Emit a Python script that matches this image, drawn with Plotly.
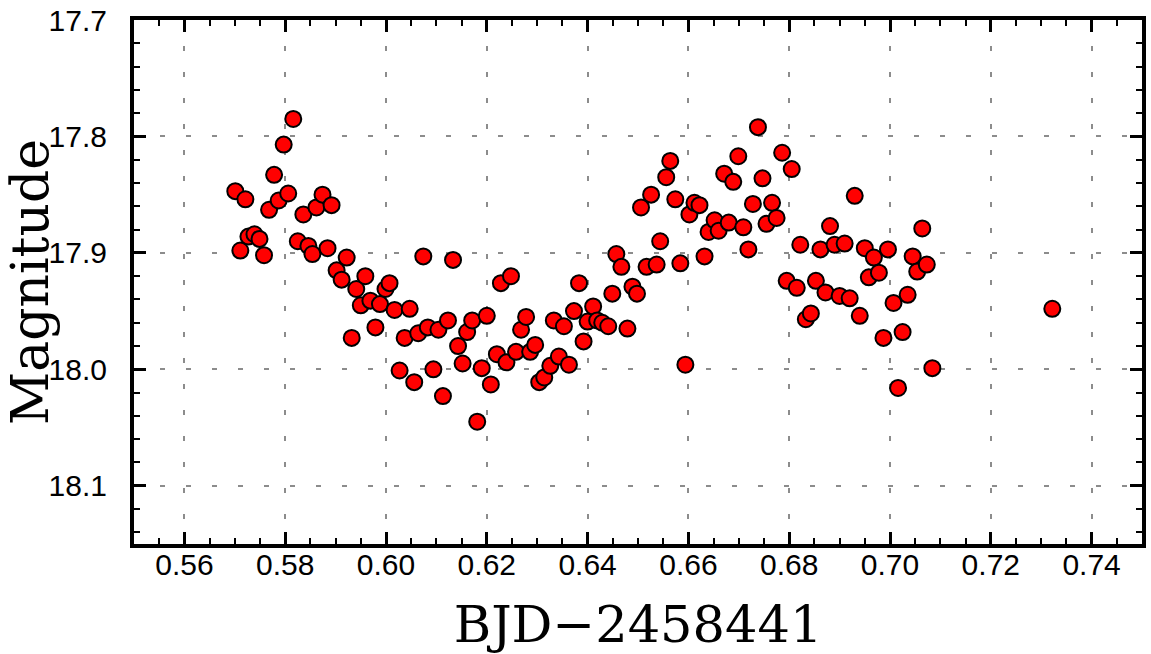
import plotly.graph_objects as go

# BJD - 2458441
bjd = [0.5701, 0.5711, 0.5721, 0.5727, 0.5739, 0.5749, 0.5758, 0.5768, 0.5778, 0.5787,
       0.5797, 0.5806, 0.5816, 0.5825, 0.5836, 0.5846, 0.5854, 0.5862, 0.5874, 0.5884,
       0.5892, 0.5902, 0.5912, 0.5922, 0.5932, 0.5941, 0.5950, 0.5959, 0.5969, 0.5979,
       0.5988, 0.5999, 0.6007, 0.6017, 0.6027, 0.6037, 0.6047, 0.6056, 0.6064, 0.6074,
       0.6083, 0.6094, 0.6104, 0.6113, 0.6123, 0.6133, 0.6143, 0.6152, 0.6161, 0.6171,
       0.6181, 0.6190, 0.6200, 0.6208, 0.6220, 0.6228, 0.6239, 0.6248, 0.6258, 0.6268,
       0.6278, 0.6286, 0.6296, 0.6304, 0.6314, 0.6326, 0.6333, 0.6343, 0.6353, 0.6363,
       0.6373, 0.6383, 0.6392, 0.6400, 0.6411, 0.6419, 0.6429, 0.6441, 0.6449, 0.6457,
       0.6467, 0.6479, 0.6489, 0.6498, 0.6506, 0.6517, 0.6526, 0.6537, 0.6544, 0.6556,
       0.6564, 0.6574, 0.6584, 0.6594, 0.6602, 0.6612, 0.6622, 0.6632, 0.6640, 0.6652,
       0.6660, 0.6671, 0.6680, 0.6689, 0.6699, 0.6709, 0.6719, 0.6728, 0.6738, 0.6747,
       0.6755, 0.6766, 0.6775, 0.6786, 0.6795, 0.6805, 0.6815, 0.6822, 0.6833, 0.6843,
       0.6853, 0.6862, 0.6872, 0.6881, 0.6890, 0.6900, 0.6910, 0.6920, 0.6930, 0.6940,
       0.6950, 0.6958, 0.6968, 0.6978, 0.6987, 0.6996, 0.7007, 0.7016, 0.7025, 0.7035,
       0.7045, 0.7054, 0.7064, 0.7073, 0.7084, 0.7322]

magnitude = [17.847, 17.898, 17.854, 17.886, 17.884, 17.888, 17.902, 17.863, 17.833, 17.855,
             17.807, 17.849, 17.785, 17.890, 17.867, 17.894, 17.901, 17.861, 17.850, 17.896,
             17.859, 17.915, 17.923, 17.904, 17.973, 17.931, 17.945, 17.920, 17.941, 17.964,
             17.944, 17.931, 17.926, 17.949, 18.001, 17.973, 17.948, 18.011, 17.969, 17.903,
             17.964, 18.000, 17.966, 18.023, 17.958, 17.906, 17.980, 17.995, 17.968, 17.958,
             18.045, 17.999, 17.954, 18.013, 17.987, 17.926, 17.994, 17.920, 17.985, 17.966,
             17.955, 17.985, 17.979, 18.011, 18.007, 17.997, 17.958, 17.989, 17.963, 17.996,
             17.950, 17.926, 17.976, 17.959, 17.946, 17.958, 17.960, 17.963, 17.935, 17.901,
             17.912, 17.965, 17.929, 17.935, 17.861, 17.912, 17.850, 17.910, 17.890, 17.835,
             17.821, 17.854, 17.909, 17.996, 17.867, 17.857, 17.859, 17.903, 17.882, 17.872,
             17.881, 17.832, 17.874, 17.839, 17.817, 17.878, 17.897, 17.858, 17.792, 17.836,
             17.875, 17.857, 17.870, 17.814, 17.924, 17.828, 17.930, 17.893, 17.957, 17.952,
             17.924, 17.897, 17.934, 17.877, 17.893, 17.937, 17.892, 17.939, 17.851, 17.954,
             17.896, 17.921, 17.904, 17.917, 17.973, 17.897, 17.943, 18.016, 17.968, 17.936,
             17.903, 17.916, 17.879, 17.910, 17.999, 17.948]

x_ticks = [0.56, 0.58, 0.60, 0.62, 0.64, 0.66, 0.68, 0.70, 0.72, 0.74]
y_ticks = [17.7, 17.8, 17.9, 18.0, 18.1]

fig = go.Figure()
fig.add_trace(go.Scatter(
    x=bjd, y=magnitude, mode="markers",
    marker=dict(size=16, color="#ff0000", line=dict(color="black", width=2)),
    showlegend=False,
))

axis_common = dict(
    showline=True, linecolor="black", linewidth=4, mirror="allticks",
    ticks="inside", ticklen=12, tickwidth=2.5, tickcolor="black",
    showgrid=True, gridcolor="#8c8c8c", gridwidth=2, griddash="5px,21px",
    zeroline=False, automargin=False, ticklabeloverflow="allow",
    tickfont=dict(family="Liberation Sans, Arial, sans-serif", size=30, color="black"),
    minor=dict(ticks="inside", ticklen=6, tickwidth=2, tickcolor="black", showgrid=False),
)

fig.update_xaxes(
    **axis_common,
    range=[0.55, 0.75],
    tickvals=x_ticks,
    ticktext=[f"{v:.2f}" for v in x_ticks],
    minor_dtick=0.005,
    ticklabelstandoff=-9,
    title=dict(text="BJD\u22122458441",
               font=dict(family="DejaVu Serif, serif", size=51, color="black"),
               standoff=33),
)
fig.update_yaxes(
    **axis_common,
    range=[18.15, 17.7],
    tickvals=y_ticks,
    ticktext=[f"{v:.1f}" for v in y_ticks],
    minor_dtick=0.02,
    ticklabelstandoff=17,
    title=dict(text="Magnitude",
               font=dict(family="DejaVu Serif, serif", size=52, color="black"),
               standoff=2),
)

fig.update_layout(
    width=1151, height=654,
    margin=dict(l=134, r=9, t=20, b=110),
    paper_bgcolor="white", plot_bgcolor="white",
)

# remove the browser's default 8px body margin so the figure fills the window exactly
fig.write_html("out.html",
               config={"displayModeBar": False},
               post_script="document.body.style.margin='0';document.body.style.overflow='hidden';")
